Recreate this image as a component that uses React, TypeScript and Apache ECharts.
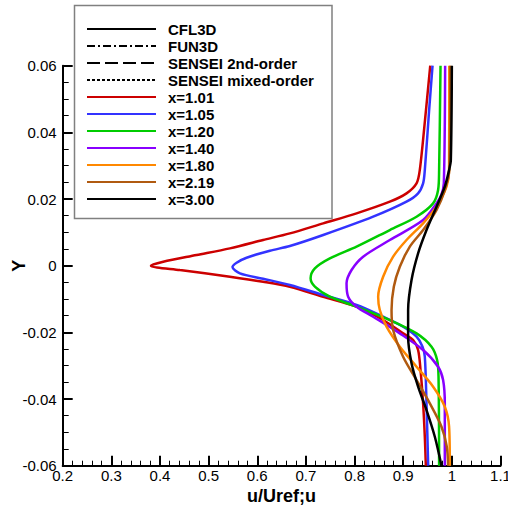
import React, { useEffect, useRef } from 'react';
import * as echarts from 'echarts';

// Velocity profiles: [u/Uref, Y]
const profileX101: [number, number][] = [
  [0.9556, 0.06], [0.945, 0.044], [0.9341, 0.0287], [0.9274, 0.0247], [0.9068, 0.0217],
  [0.8725, 0.0192], [0.8041, 0.0157], [0.7355, 0.0127], [0.667, 0.0097], [0.612, 0.0077],
  [0.5437, 0.0052], [0.4753, 0.0032], [0.4067, 0.0012], [0.3814, 0.0], [0.441, -0.0013],
  [0.5437, -0.0033], [0.612, -0.0048], [0.667, -0.0063], [0.7355, -0.0093], [0.8041, -0.0123],
  [0.8587, -0.0163], [0.8998, -0.0203], [0.9204, -0.0223], [0.9306, -0.0253], [0.9356, -0.0313],
  [0.9409, -0.0413], [0.9444, -0.0513], [0.9465, -0.06],
];
const profileX105: [number, number][] = [
  [0.9603, 0.06], [0.9533, 0.0467], [0.9444, 0.0287], [0.9409, 0.0247], [0.9306, 0.0217],
  [0.9068, 0.0192], [0.8382, 0.0147], [0.7355, 0.0092], [0.667, 0.0059], [0.626, 0.0045],
  [0.578, 0.0024], [0.5575, 0.0009], [0.549, -0.0004], [0.5643, -0.0023], [0.612, -0.0039],
  [0.667, -0.0058], [0.7355, -0.0088], [0.8041, -0.0118], [0.8587, -0.0153], [0.8998, -0.0183],
  [0.9274, -0.0213], [0.9397, -0.0243], [0.9444, -0.0273], [0.9479, -0.0413], [0.9512, -0.0593],
  [0.9516, -0.06],
];
const profileX120: [number, number][] = [
  [0.9767, 0.06], [0.9738, 0.0287], [0.9717, 0.0227], [0.9615, 0.0187], [0.9274, 0.0147],
  [0.8725, 0.0107], [0.8041, 0.0057], [0.7492, 0.0022], [0.7184, -0.0008], [0.7096, -0.0038],
  [0.7184, -0.0063], [0.7492, -0.0093], [0.8041, -0.0123], [0.8725, -0.0163], [0.9274, -0.0203],
  [0.9582, -0.0243], [0.9697, -0.0283], [0.9726, -0.0333], [0.9738, -0.06],
];
const profileX140: [number, number][] = [
  [0.9862, 0.06], [0.9835, 0.0247], [0.9783, 0.0212], [0.9684, 0.0187], [0.9409, 0.0137],
  [0.8725, 0.0077], [0.8176, 0.0027], [0.7938, -0.0013], [0.7835, -0.0053], [0.7868, -0.0093],
  [0.8041, -0.0123], [0.8382, -0.0153], [0.893, -0.0203], [0.9409, -0.0253], [0.9717, -0.0303],
  [0.982, -0.0343], [0.9855, -0.0413], [0.9855, -0.06],
];
const profileX180: [number, number][] = [
  [0.9947, 0.06], [0.9943, 0.0287], [0.989, 0.0237], [0.9684, 0.0177], [0.9409, 0.0127],
  [0.9068, 0.0077], [0.8793, 0.0027], [0.8587, -0.0033], [0.8485, -0.0093], [0.8519, -0.0133],
  [0.8657, -0.0183], [0.893, -0.0243], [0.9274, -0.0303], [0.9615, -0.0363], [0.9855, -0.0423],
  [0.9943, -0.0483], [0.9958, -0.06],
];
const profileX219: [number, number][] = [
  [0.9968, 0.06], [0.9947, 0.0287], [0.9855, 0.0227], [0.9684, 0.0167], [0.9409, 0.0107],
  [0.9136, 0.0057], [0.893, -0.0003], [0.8807, -0.0063], [0.876, -0.0133], [0.8793, -0.0193],
  [0.8998, -0.0273], [0.9274, -0.0343], [0.9547, -0.0413], [0.9787, -0.0483], [0.9896, -0.0543],
  [0.9923, -0.06],
];
const profileX300: [number, number][] = [
  [1.0, 0.06], [0.9979, 0.0317], [0.9943, 0.0287], [0.9855, 0.0237], [0.9684, 0.0177],
  [0.9479, 0.0107], [0.9306, 0.0037], [0.9171, -0.0043], [0.9101, -0.0133], [0.9101, -0.0213],
  [0.9171, -0.0293], [0.9306, -0.0363], [0.9479, -0.0433], [0.965, -0.0513], [0.9787, -0.06],
];

const profileNames = ['x=1.01', 'x=1.05', 'x=1.20', 'x=1.40', 'x=1.80', 'x=2.19', 'x=3.00'];
const profileColors = ['#cc0000', '#3333ff', '#00cc00', '#8800ff', '#ff8800', '#b05a10', '#000000'];
const profiles = [profileX101, profileX105, profileX120, profileX140, profileX180, profileX219, profileX300];

const codeNames = ['CFL3D', 'FUN3D', 'SENSEI 2nd-order', 'SENSEI mixed-order'];
const codeDashes: (number[] | null)[] = [null, [8, 3, 2, 3], [13, 5], [3, 2]];

const FONT = "'Liberation Sans', Arial, Helvetica, sans-serif";

export default function App() {
  const ref = useRef<HTMLDivElement>(null);
  useEffect(() => {
    if (!ref.current) return;
    const chart = echarts.init(ref.current, null, { renderer: 'svg' });

    const legendEntries = [
      ...codeNames.map((n, i) => ({ name: n, color: '#000', dash: codeDashes[i] })),
      ...profileNames.map((n, i) => ({ name: n, color: profileColors[i], dash: null as number[] | null })),
    ];
    const legendChildren: any[] = [
      {
        type: 'rect',
        shape: { x: 74.5, y: 5.5, width: 257.5, height: 213 },
        style: { fill: '#fff', stroke: '#808080', lineWidth: 1.5 },
      },
    ];
    legendEntries.forEach((e, i) => {
      const y = 29 + i * 17;
      legendChildren.push({
        type: 'line',
        shape: { x1: 87, y1: y, x2: 156, y2: y },
        style: { stroke: e.color, lineWidth: 2.2, lineDash: e.dash || undefined },
      });
      legendChildren.push({
        type: 'text',
        x: 168,
        y,
        style: {
          text: e.name,
          fill: '#000',
          fontSize: 15,
          fontWeight: 'bold',
          fontFamily: FONT,
          verticalAlign: 'middle',
          align: 'left',
        },
      });
    });

    chart.setOption({
      animation: false,
      grid: {
        left: 62.7, right: 7.5, top: 65.7, bottom: 40.3,
        containLabel: false, outerBoundsMode: 'none',
      },
      xAxis: {
        type: 'value',
        min: 0.2,
        max: 1.1,
        interval: 0.1,
        name: 'u/Uref;u',
        nameLocation: 'middle',
        nameGap: 21,
        nameMoveOverlap: false,
        nameTextStyle: { fontSize: 18, fontWeight: 'bold', fontFamily: FONT, color: '#000' },
        axisLine: { onZero: false, lineStyle: { color: '#000', width: 2 } },
        axisTick: { inside: true, length: 10, lineStyle: { color: '#000', width: 2 } },
        minorTick: { show: true, splitNumber: 5, length: 5, lineStyle: { color: '#000', width: 1 } },
        axisLabel: { fontSize: 15, fontFamily: FONT, color: '#000', margin: 2, hideOverlap: false },
        splitLine: { show: false },
      },
      yAxis: {
        type: 'value',
        min: -0.06,
        max: 0.06,
        interval: 0.02,
        name: 'Y',
        nameLocation: 'middle',
        nameGap: 35,
        nameMoveOverlap: false,
        nameTextStyle: { fontSize: 18, fontWeight: 'bold', fontFamily: FONT, color: '#000' },
        axisLine: { onZero: false, lineStyle: { color: '#000', width: 2 } },
        axisTick: { inside: true, length: 10, lineStyle: { color: '#000', width: 2 } },
        minorTick: { show: true, splitNumber: 4, length: 6, lineStyle: { color: '#000', width: 1 } },
        axisLabel: { fontSize: 15, fontFamily: FONT, color: '#000', margin: 6, hideOverlap: false },
        splitLine: { show: false },
      },
      series: profiles.map((d, i) => ({
        type: 'line',
        name: profileNames[i],
        data: d,
        symbol: 'none',
        smooth: 0.3,
        lineStyle: { color: profileColors[i], width: 2.5 },
        z: 2 + i,
      })),
      graphic: [{ type: 'group', z: 100, children: legendChildren }],
    });
    return () => chart.dispose();
  }, []);
  return <div ref={ref} style={{ position: 'absolute', left: 0, top: 0, width: 508, height: 506 }} />;
}
